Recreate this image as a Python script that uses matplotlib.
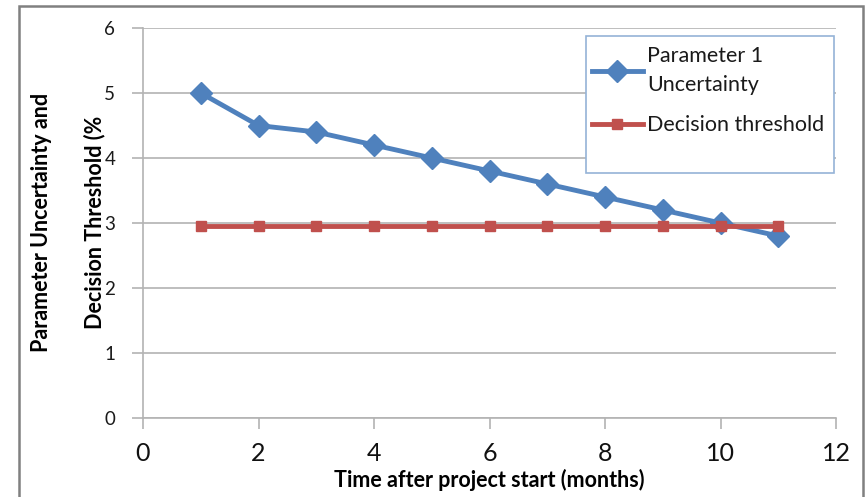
import matplotlib
matplotlib.use("Agg")
import matplotlib.pyplot as plt
from matplotlib.patches import Rectangle

months = [1, 2, 3, 4, 5, 6, 7, 8, 9, 10, 11]
uncertainty = [5.0, 4.5, 4.4, 4.2, 4.0, 3.8, 3.6, 3.4, 3.2, 3.0, 2.8]
threshold = [2.95] * 11
x_ticks = [0, 2, 4, 6, 8, 10, 12]
y_ticks = [0, 1, 2, 3, 4, 5, 6]

plt.rcParams['font.family'] = ['Lato', 'DejaVu Sans']

W, H = 865, 497
fig = plt.figure(figsize=(W / 100, H / 100), dpi=100)
fig.patch.set_facecolor('white')

# outer frame
fig.patches.append(Rectangle((19 / W, -0.05), (863 - 19) / W, (1 - 6 / H) + 0.05,
                             transform=fig.transFigure, fill=False,
                             edgecolor='#808080', linewidth=1.8, zorder=0))

ax = fig.add_axes([143 / W, 1 - 418 / H, (836 - 143) / W, (418 - 28) / H])
grid_c = '#b3b3b3'
ax.set_xlim(0, 12)
ax.set_ylim(0, 6)
ax.set_xticks(x_ticks)
ax.set_yticks(y_ticks)
ax.grid(axis='y', color=grid_c, linewidth=1.2)
ax.set_axisbelow(True)
for s in ['top', 'right']:
    ax.spines[s].set_visible(False)
for s in ['left', 'bottom']:
    ax.spines[s].set_color(grid_c)
    ax.spines[s].set_linewidth(1.2)
ax.tick_params(axis='x', direction='out', length=8, width=1.2, color=grid_c,
               labelsize=18, pad=9, labelcolor='#111111')
ax.tick_params(axis='y', direction='out', length=8, width=1.2, color=grid_c,
               labelsize=13.5, pad=12, labelcolor='#1a1a1a')

ax.plot(months, uncertainty, color='#4F81BD', linewidth=3.5, marker='D',
        markersize=11, markeredgecolor='#4F81BD', label='Parameter 1\nUncertainty',
        clip_on=False, zorder=3)
ax.plot(months, threshold, color='#C0504D', linewidth=3.5, marker='s',
        markersize=6.5, markeredgecolor='#C0504D', label='Decision threshold',
        clip_on=False, zorder=4)

# legend box drawn separately (has empty space at bottom)
fig.patches.append(Rectangle((586 / W, 1 - 173 / H), (834 - 586) / W, (173 - 36) / H,
                             transform=fig.transFigure, facecolor='white',
                             edgecolor='#95b3d7', linewidth=1.2, zorder=5))
leg = fig.legend(loc='upper left', bbox_to_anchor=(592 / W, 1 - 46 / H),
                 frameon=False, fontsize=15.5, handlelength=2.35,
                 handletextpad=0.2, borderpad=0.0, labelspacing=0.95,
                 borderaxespad=0)
leg.set_zorder(6)
for t in leg.get_texts():
    t.set_linespacing(1.55)
    t.set_color('#1a1a1a')

ax.set_xlabel('Time after project start (months)', fontsize=15.5, fontweight='bold',
              labelpad=3)

fig.text(42 / W, 1 - 222 / H, 'Parameter Uncertainty and', rotation=90,
         ha='center', va='center', fontsize=15.5, fontweight='bold')
fig.text(95 / W, 1 - 222 / H, 'Decision Threshold (%', rotation=90,
         ha='center', va='center', fontsize=15.5, fontweight='bold')

fig.savefig('out.png', dpi=100)
